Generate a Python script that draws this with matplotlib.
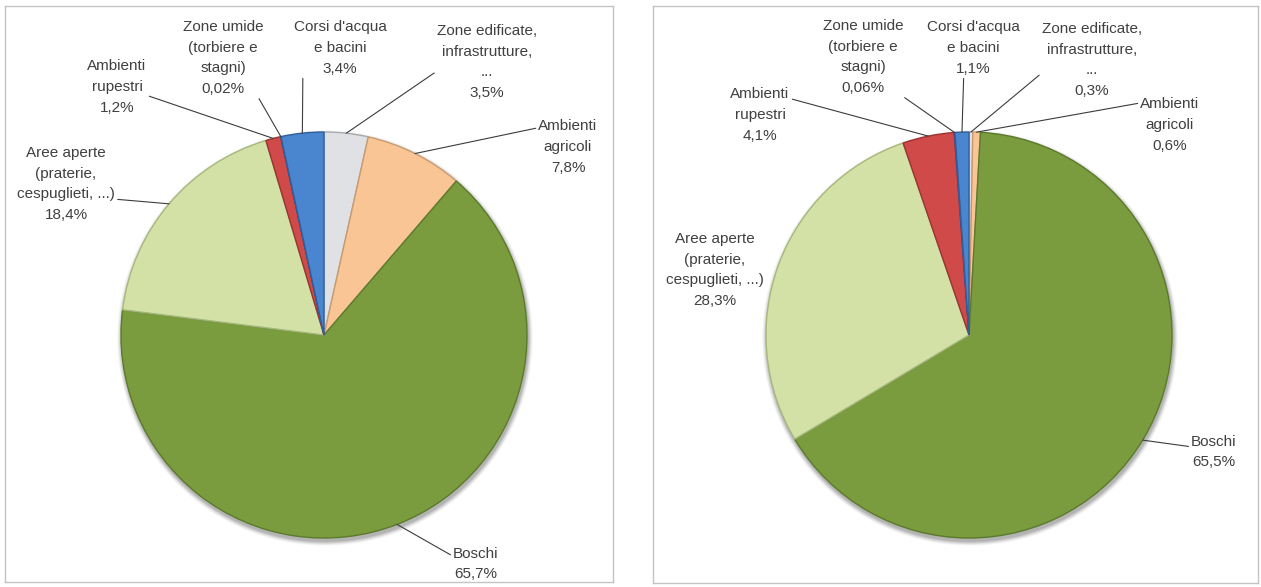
import numpy as np
import matplotlib
matplotlib.use("Agg")
import matplotlib.pyplot as plt
from matplotlib.patches import Circle

# Land-cover share, clockwise from 12 o'clock
categories = [
    "Zone edificate,\ninfrastrutture,\n...",
    "Ambienti\nagricoli",
    "Boschi",
    "Aree aperte\n(praterie,\ncespuglieti, ...)",
    "Ambienti\nrupestri",
    "Zone umide\n(torbiere e\nstagni)",
    "Corsi d'acqua\ne bacini",
]
left_values = [3.5, 7.8, 65.7, 18.4, 1.2, 0.02, 3.4]
right_values = [0.3, 0.6, 65.5, 28.3, 4.1, 0.06, 1.1]

slice_colors = ["#e0e1e4", "#fac594", "#7a9c3e", "#d3e1a6",
                "#cf4a48", "#8064a2", "#4a86d0"]
edge_colors = ["#a9aaad", "#c99a6e", "#5b7a2a", "#a7b87c",
               "#9a3432", "#5c4678", "#2f5f99"]

W, H = 1261, 587
TEXT = "#404040"
FS = 11
LS = 1.6

# label centres (image px) and where the leader leaves the label box
left_layout = {
    "box": (5, 6, 613, 582), "center": (324, 335), "radius": 203,
    "labels": [(487, 62), (568, 147), (476, 564), (66, 184),
               (117, 87), (223, 58), (340, 48)],
    "relpos": [(0.0, 0.38), (0.0, 0.85), (0.0, 0.72), (1.0, 0.3),
               (1.0, 0.35), (0.9, 0.05), (0.1, 0.0)],
}
right_layout = {
    "box": (653, 6, 1258, 583), "center": (969, 335), "radius": 203,
    "labels": [(1092, 60), (1170, 125), (1214, 452), (715, 270),
               (760, 115), (863, 57), (973, 48)],
    "relpos": [(0.0, 0.33), (0.0, 0.9), (0.0, 0.65), None,
               (1.0, 0.8), (0.9, 0.05), (0.4, 0.0)],
}


def pct(v):
    return f"{v:g}".replace(".", ",") + "%"


def draw_panel(fig, values, layout):
    x0, y0, x1, y1 = layout["box"]
    ax = fig.add_axes([x0 / W, 1 - y1 / H, (x1 - x0) / W, (y1 - y0) / H])
    cx, cy = layout["center"][0], H - layout["center"][1]
    r = layout["radius"]

    # soft shadow under the pie
    for k, a in zip(range(6, 0, -1), [0.03, 0.04, 0.05, 0.06, 0.07, 0.08]):
        ax.add_patch(Circle((cx + 1, cy - 3), r + k * 0.8, color="#000000",
                            alpha=a, lw=0, zorder=0))

    wedges, _ = ax.pie(values, startangle=90, counterclock=False,
                       center=(cx, cy), radius=r, colors=slice_colors,
                       wedgeprops=dict(linewidth=1.0))
    for w, ec in zip(wedges, edge_colors):
        w.set_edgecolor(ec)
        w.set_zorder(2)

    for w, name, v, pos, rp in zip(wedges, categories, values,
                                   layout["labels"], layout["relpos"]):
        mid = np.deg2rad((w.theta1 + w.theta2) / 2)
        tip = (cx + r * np.cos(mid), cy + r * np.sin(mid))
        txt = f"{name}\n{pct(v)}"
        xy_text = (pos[0], H - pos[1])
        if rp is None:
            ax.text(*xy_text, txt, ha="center", va="center", color=TEXT,
                    fontsize=FS, linespacing=LS, zorder=3)
            continue
        ax.annotate(txt, xy=tip, xytext=xy_text, ha="center", va="center",
                    color=TEXT, fontsize=FS, linespacing=LS, zorder=3,
                    arrowprops=dict(arrowstyle="-", color="#3c3c3c", lw=0.8,
                                    relpos=rp, shrinkA=0, shrinkB=0))

    ax.set_xlim(x0, x1)
    ax.set_ylim(H - y1, H - y0)
    ax.set_aspect("equal")
    ax.set_frame_on(True)
    ax.set_xticks([])
    ax.set_yticks([])
    for s in ax.spines.values():
        s.set_color("#c4c4c4")
        s.set_linewidth(1.0)
    return ax


plt.rcParams["font.family"] = ["Liberation Sans", "DejaVu Sans"]
fig = plt.figure(figsize=(W / 100, H / 100), dpi=100)
draw_panel(fig, left_values, left_layout)
draw_panel(fig, right_values, right_layout)
fig.savefig("out.png", dpi=100, facecolor="white")
